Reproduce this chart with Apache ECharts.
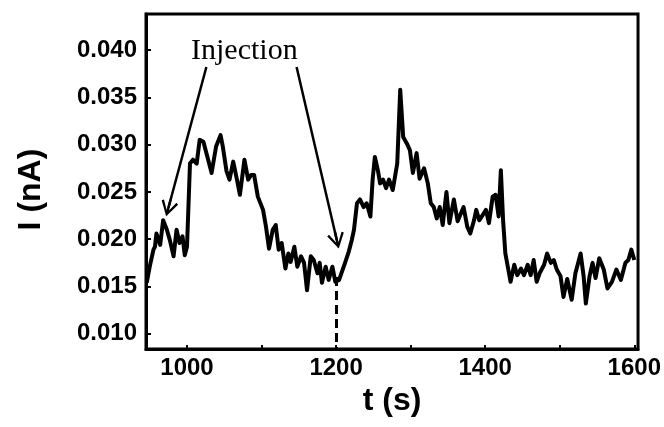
<!DOCTYPE html>
<html>
<head>
<meta charset="utf-8">
<script src="https://cdn.jsdelivr.net/npm/echarts@6/dist/echarts.min.js"></script>
<style>html,body{margin:0;padding:0;background:#fff}#c{width:664px;height:427px}</style>
</head>
<body>
<div id="c"></div>
<script>
// time (s)
const time = [946,950,955,957,959,964,968,973,977,982,986,990,994,997,1000,1004,1008,1013,1017,1022,1026,1033,1039,1045,1048,1053,1057,
1062,1067,1071,1077,1082,1086,1090,1095,1102,1106,1110,1115,1119,1123,1127,1132,1136,1139,1144,1148,1153,1157,1161,1166,1170,1175,1178,1181,1186,1190,1195,1199,
1204,1208,1212,1217,1221,1224,1228,1232,1237,1241,1246,1249,1252,1256,1259,1263,1267,1271,1276,1279,1282,1286,
1290,1295,1299,1303,1308,1312,1318,1323,1327,1331,1335,1339,1343,1348,1352,1358,1363,1371,1376,1380,1385,1388,1392,1397,
1401,1405,1410,1414,1418,1421,1424,1427,1431,1434,1439,1443,1448,1452,1457,1461,1465,1469,1473,1479,1483,1488,1492,1496,
1501,1505,1510,1516,1521,1528,1532,1535,1540,1544,1548,1553,1559,1564,1570,1576,1582,1588,1592,1596,1600];
// current (nA)
const current = [0.0154,0.0171,0.0189,0.0192,0.0206,0.0194,0.0220,0.0210,0.0199,0.0182,0.0210,0.0196,0.0203,0.0183,0.0192,0.0280,0.0284,0.0280,0.0305,0.0303,0.0291,0.0270,0.0298,0.0310,0.0298,0.0272,0.0263,
0.0282,0.0263,0.0247,0.0284,0.0263,0.0268,0.0268,0.0245,0.0231,0.0213,0.0190,0.0210,0.0215,0.0189,0.0196,0.0169,0.0185,0.0176,0.0192,0.0171,0.0182,0.0175,0.0146,0.0182,0.0178,0.0164,0.0175,0.0154,0.0171,0.0157,0.0171,0.0155,
0.0157,0.0166,0.0175,0.0187,0.0199,0.0210,0.0238,0.0242,0.0234,0.0238,0.0224,0.0263,0.0287,0.0273,0.0259,0.0263,0.0254,0.0263,0.0252,0.0266,0.0280,0.0358,
0.0308,0.0301,0.0294,0.0270,0.0291,0.0264,0.0275,0.0259,0.0238,0.0234,0.0222,0.0234,0.0215,0.0250,0.0217,0.0242,0.0219,0.0234,0.0213,0.0206,0.0220,0.0231,0.0220,0.0226,
0.0231,0.0217,0.0245,0.0247,0.0224,0.0273,0.0220,0.0185,0.0168,0.0155,0.0173,0.0162,0.0169,0.0162,0.0173,0.0162,0.0178,0.0155,0.0164,0.0173,0.0185,0.0175,0.0178,0.0168,
0.0161,0.0139,0.0158,0.0136,0.0164,0.0185,0.0161,0.0132,0.0161,0.0175,0.0159,0.0180,0.0168,0.0148,0.0155,0.0168,0.0157,0.0175,0.0178,0.0189,0.0178];
// axis settings
const xLabels = [1000,1200,1400,1600];
const yLabels = [0.010,0.015,0.020,0.025,0.030,0.035,0.040];
// annotations (data coordinates)
const injectionTime = 1200;
const injectionCurrent = 0.0160;
const arrow1 = [[1026,0.0382],[975,0.0233]];
const arrow2 = [[1147,0.0382],[1201,0.0199]];

const chart = echarts.init(document.getElementById('c'));
const arrowHead = 'path://M50,0 L100,84 L88,92 L50,24 L12,92 L0,84 Z M43,8 L57,8 L57,100 L43,100 Z';
const lbl = {fontFamily:'Liberation Sans, Arial', fontWeight:'bold', fontSize:24, color:'#000'};
chart.setOption({
  animation:false,
  grid:{left:146,right:24,top:14,bottom:78,show:true,borderColor:'#000',borderWidth:3},
  xAxis:{type:'value',min:945,max:1605,splitNumber:5,
    name:'t (s)',nameLocation:'middle',nameGap:36,
    nameTextStyle:{fontFamily:'Liberation Sans, Arial',fontWeight:'bold',fontSize:32,color:'#000'},
    axisLine:{show:true,lineStyle:{color:'#000',width:3}},
    axisTick:{show:true,inside:true,length:4,lineStyle:{color:'#000',width:2}},
    splitLine:{show:false},
    axisLabel:Object.assign({margin:7,showMinLabel:false,showMaxLabel:false,
      formatter:function(v){const r=Math.round(v);return (xLabels.indexOf(r)>=0 && Math.abs(v-r)<1e-6)?String(r):'';}},lbl)
  },
  yAxis:{type:'value',min:0.0084,max:0.0438,splitNumber:7,
    name:'I (nA)',nameLocation:'middle',nameGap:99,
    nameTextStyle:{fontFamily:'Liberation Sans, Arial',fontWeight:'bold',fontSize:32,color:'#000',padding:[0,16,0,0]},
    axisLine:{show:true,lineStyle:{color:'#000',width:3}},
    axisTick:{show:true,inside:true,length:5,lineStyle:{color:'#000',width:2}},
    splitLine:{show:false},
    axisLabel:Object.assign({margin:9,showMinLabel:false,showMaxLabel:false,
      formatter:function(v){for(const y of yLabels){if(Math.abs(v-y)<1e-7)return y.toFixed(3);}return '';}},lbl)
  },
  series:[{
    type:'line',data:time.map((t,i)=>[t,current[i]]),symbol:'none',
    lineStyle:{color:'#000',width:4,join:'round'},
    z:3,
    markLine:{silent:true,symbol:['none','none'],label:{show:false},animation:false,
      data:[
        [{coord:[injectionTime,injectionCurrent],lineStyle:{type:[9,5],width:3,color:'#000'}},{coord:[injectionTime,0.0084]}],
        [{coord:arrow1[0],symbol:'none',lineStyle:{type:'solid',width:2.5,color:'#000'}},{coord:arrow1[1],symbol:arrowHead,symbolSize:[17,17]}],
        [{coord:arrow2[0],symbol:'none',lineStyle:{type:'solid',width:2.5,color:'#000'}},{coord:arrow2[1],symbol:arrowHead,symbolSize:[17,17]}]
      ]}
  }],
  graphic:[{type:'text',left:191,top:36,style:{text:'Injection',fontFamily:'Liberation Serif, Times New Roman',fontSize:30,fill:'#000'}}]
});
</script>
</body>
</html>
